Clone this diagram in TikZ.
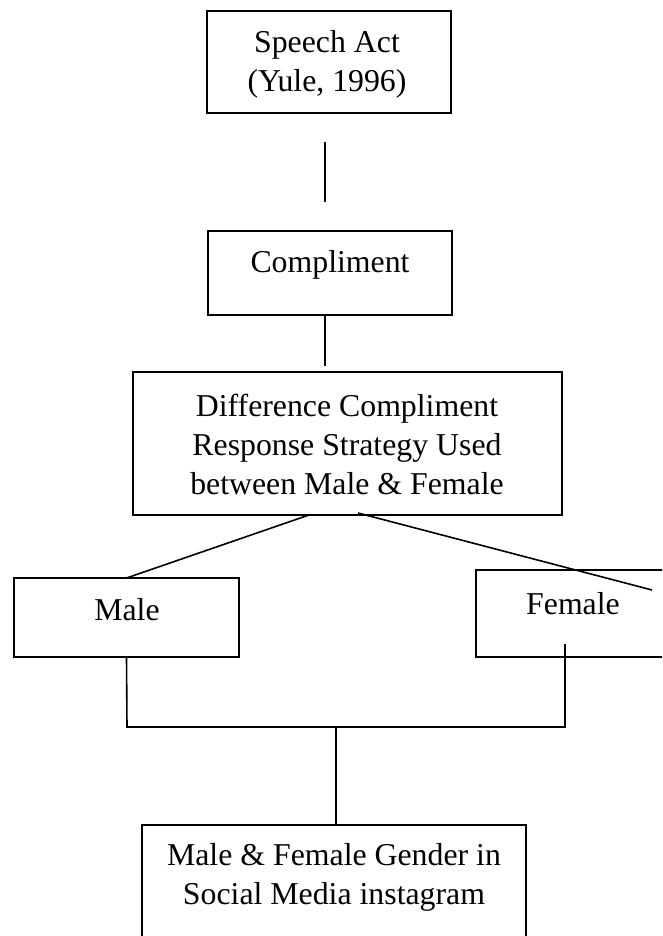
\documentclass[tikz,border=0pt]{standalone}
\usepackage{fontspec}
\setmainfont{Liberation Serif}
\begin{document}
\begin{tikzpicture}[x=1pt,y=-1pt,
  box/.style={draw=black,line width=1.6pt,minimum width=#1,inner sep=0pt,outer sep=0pt},
  lbl/.style={align=center,inner sep=0pt,font=\fontsize{31.8}{39}\selectfont},
  conn/.style={line width=1.6pt}]
\useasboundingbox (0,0) rectangle (662,936);
\clip (0,0) rectangle (662,936);
% boxes
\node[box=244pt,minimum height=102pt] (sa) at (329,62) {};
\node[box=244pt,minimum height=84pt] (comp) at (330,273) {};
\node[box=429pt,minimum height=143pt] (diff) at (347.5,443.5) {};
\node[box=225pt,minimum height=79pt] (male) at (126.5,617.5) {};
\node[box=224pt,minimum height=87pt] (female) at (588,613.5) {};
\node[box=384pt,minimum height=135pt] (res) at (334,892.5) {};
% texts
\node[lbl] (tsa) at (327,64) {Speech Act\\(Yule, 1996)};
\node[lbl] (tcomp) at (330,265) {Compliment};
\node[lbl] (tdiff) at (347,444) {Difference Compliment\\Response Strategy Used\\between Male \& Female};
\node[lbl] (tmale) at (127,610) {Male};
\node[lbl] (tfemale) at (573,604) {Female};
\node[lbl] (tres) at (334,877) {Male \& Female Gender in\\Social Media instagram};
% free ends
\coordinate (l1a) at (325,142);
\coordinate (l1b) at (325,202);
\coordinate (l2b) at (325,366);
\coordinate (dl) at (309,515);
\coordinate (dr) at (358,513);
\coordinate (fr) at (652,590);
\coordinate (fv) at (565,644);
\coordinate (jl) at (127,727);
\coordinate (jr) at (565,727);
\coordinate (jm) at (336,728);
% connectors
\draw[conn] (l1a) -- (l1b);
\draw[conn] (comp.south -| l2b) -- (l2b);
\draw[conn] (dl) -- (male.north);
\draw[conn] (dr) -- (fr);
\draw[conn] (male.south) -- (jl) -- (jr) -- (fv);
\draw[conn] (jm) -- (res.north -| jm);
\end{tikzpicture}
\end{document}
